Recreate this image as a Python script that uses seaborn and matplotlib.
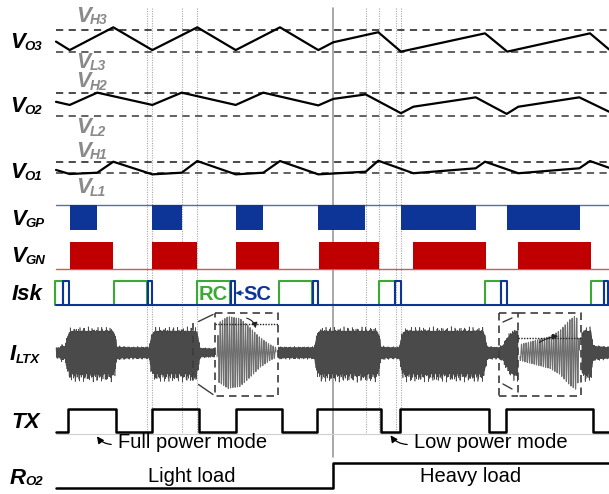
import numpy as np
import matplotlib
matplotlib.use("Agg")
import matplotlib.pyplot as plt
import seaborn as sns

sns.set_theme(style="white")
plt.rcParams["font.family"] = ["Liberation Sans", "DejaVu Sans"]

# ---------------- signal data (time axis in display units) ----------------
T_START, T_END = 56.0, 609.0

# output voltages, as fraction of the hysteresis window (0 = V_L, 1 = V_H)
VO3_T = [56, 69.7, 113.3, 152.3, 197.3, 235.7, 280, 318.3, 333.3, 378.3, 401, 485, 507.3, 590, 609]
VO3_V = [0.48, 0.10, 1.12, 0.10, 1.12, 0.10, 1.12, 0.10, 0.45, 0.90, 0.03, 0.85, 0.03, 0.85, 0.13]

VO2_T = [56, 69.7, 97.3, 152.3, 181.7, 235.7, 263.3, 318.3, 333.3, 365.7, 401, 413.3, 475.7, 506.7, 518.3, 579.3, 609]
VO2_V = [0.62, 0.48, 1.03, 0.48, 1.03, 0.48, 1.03, 0.46, 0.75, 0.95, 0.11, 0.40, 0.82, 0.08, 0.40, 0.82, 0.18]

VO1_T = [56, 69.7, 97.3, 113.3, 152.3, 181.7, 197.3, 235.7, 263.3, 280, 318.3, 365.7, 378.3, 413.3, 475.7, 485, 518.3, 579.3, 590, 609]
VO1_V = [0.25, -0.12, 0.0, 1.0, -0.15, 0.0, 1.06, -0.15, 0.0, 1.06, -0.15, 0.09, 1.09, -0.05, 0.40, 1.0, -0.05, 0.40, 1.06, 0.45]

# gate drive pulses (start, end)
VGP_ON = [(69.7, 97.3), (152.3, 181.7), (235.7, 263.3), (318.3, 365.0), (401.0, 475.7), (506.7, 580.0)]
VGN_ON = [(69.7, 113.3), (152.3, 196.7), (235.7, 279.0), (319.0, 379.3), (412.7, 485.7), (518.3, 591.0)]

# sink current phases
ISK_RC = [(55.0, 63.3), (114.0, 146.7), (196.7, 230.0), (279.3, 312.3), (379.0, 395.0), (485.0, 501.0), (590.7, 604.0)]
ISK_SC = [(63.3, 69.0), (147.7, 151.7), (231.0, 235.0), (313.3, 318.3), (395.0, 400.7), (501.0, 506.7), (604.0, 608.3)]

# transmitter current envelope (half amplitude), NaN where the zoom windows sit
ILTX_T = [56, 60, 62, 65, 67, 69, 72, 113, 115, 117, 130, 149, 151, 153, 156, 196, 198, 200, 214.9,
          215, 278, 278.1, 281, 300, 314, 316, 318, 321, 377, 379, 381, 390, 399, 401, 403, 406, 483,
          485, 487, 495, 499, 503, 507, 512, 518, 518.1, 581.6, 581.7, 584, 591, 593.3, 609]
ILTX_A = [6, 7, 10, 8, 20, 28, 30, 30, 24, 8, 7, 7, 20, 28, 30, 30, 24, 6, 5,
          np.nan, np.nan, 8, 7, 7, 7, 18, 28, 30, 30, 24, 8, 7, 7, 18, 28, 30, 30,
          24, 8, 7, 7, 10, 20, 27, 31, np.nan, np.nan, 26, 30, 30, 9, 7]

# zoomed oscillation: decay at turn-off and build-up at turn-on
ZOOM1_T = [217, 219, 228, 240, 250, 260, 270, 276]
ZOOM1_A = [5, 30, 36, 34, 25, 15, 8, 5]
ZOOM2_T = [520, 535, 550, 560, 570, 576, 578, 579.5]
ZOOM2_A = [8, 12, 16, 22, 33, 37, 30, 5]

# transmitter enable edges (starts low)
TX_EDGES = [68.3, 115.7, 152.3, 199.0, 235.7, 282.3, 316.7, 381.0, 400.0, 489.0, 505.7, 593.3]
# load step
RO2_EDGES = [333.3]

# timing guides
GUIDES_DOTTED = [146.7, 151.7, 181.7, 197.3, 365.7, 379.3, 396.0, 401.0]
GUIDE_SOLID = 332.7

# ---------------- layout ----------------
W, H, DPI = 609, 494, 100
ROWS = {
    "VO3": (52.3, 30.0), "VO2": (115.7, 93.3), "VO1": (172.7, 161.7),
    "VGP": (205.0, 230.0), "VGN": (269.0, 241.7), "ISK": (305.0, 280.7),
    "ILTX": 352.5, "TX": (431.7, 409.3), "RO2": (488.3, 462.7),
}
BLUE, RED, GREEN = "#0d3597", "#c00000", "#3aaa35"
GRAY_TXT = "#8a8a8a"
DASH_C = "#3a3a3a"

fig = plt.figure(figsize=(W / DPI, H / DPI), dpi=DPI)
ax = fig.add_axes([0, 0, 1, 1])
ax.set_xlim(0, W)
ax.set_ylim(H, 0)
ax.axis("off")


def level_to_y(row, v):
    lo, hi = ROWS[row]
    return lo - np.asarray(v, dtype=float) * (lo - hi)


def step_xy(edges, start_high=False):
    xs, lv = [T_START], [1 if start_high else 0]
    cur = lv[0]
    for e in edges:
        xs += [e, e]
        lv += [cur, 1 - cur]
        cur = 1 - cur
    xs.append(T_END)
    lv.append(cur)
    return np.array(xs), np.array(lv)


# timing guides
for gx in GUIDES_DOTTED:
    ax.plot([gx, gx], [8, 434], color="#a8a8a8", lw=0.8, ls=(0, (1, 1.2)), zorder=1)
ax.plot([GUIDE_SOLID] * 2, [8, 457], color="#9a9a9a", lw=1.2, zorder=1)

# output voltage rows with threshold windows
for row, tt, vv in [("VO3", VO3_T, VO3_V), ("VO2", VO2_T, VO2_V), ("VO1", VO1_T, VO1_V)]:
    lo, hi = ROWS[row]
    ax.plot([T_START, T_END], [hi, hi], color=DASH_C, lw=1.3, ls=(0, (4, 3)), zorder=2)
    ax.plot([T_START, T_END], [lo, lo], color="#555555", lw=1.3, ls=(0, (4, 3)), zorder=2)
    sns.lineplot(x=np.array(tt), y=level_to_y(row, vv), ax=ax, color="black", lw=1.6,
                 estimator=None, sort=False, zorder=3)

# gate drive
ax.plot([T_START, T_END], [ROWS["VGP"][0]] * 2, color="#5070b0", lw=1.0, zorder=2)
ax.broken_barh([(a, b - a) for a, b in VGP_ON], (ROWS["VGP"][0], ROWS["VGP"][1] - ROWS["VGP"][0]),
               facecolors=BLUE, edgecolors="none", zorder=3)
ax.plot([T_START, T_END], [ROWS["VGN"][0]] * 2, color="#c06060", lw=1.0, zorder=2)
ax.broken_barh([(a, b - a) for a, b in VGN_ON], (ROWS["VGN"][1], ROWS["VGN"][0] - ROWS["VGN"][1]),
               facecolors=RED, edgecolors="none", zorder=3)

# sink current
base, top = ROWS["ISK"]
for a, b in ISK_RC:
    ax.plot([a, a, b, b], [base, top, top, base], color=GREEN, lw=1.5, zorder=3)
ax.plot([T_START, T_END], [base, base], color=BLUE, lw=1.5, zorder=4)
for a, b in ISK_SC:
    ax.plot([a, a, b, b], [base, top, top, base], color=BLUE, lw=1.5, zorder=4)
ax.text(213.5, 300, "RC", color=GREEN, fontsize=14.5, fontweight="bold", ha="center", va="baseline")
ax.text(257, 300, "SC", color=BLUE, fontsize=14.5, fontweight="bold", ha="center", va="baseline")
ax.annotate("", xy=(232.5, 293), xytext=(246, 293),
            arrowprops=dict(arrowstyle="-|>", color=BLUE, lw=1.0, mutation_scale=7))

# transmitter coil current: solid core plus a fine carrier for the ragged edges
cy = ROWS["ILTX"]
tt = np.arange(T_START, T_END, 0.15)
env = np.interp(tt, ILTX_T, ILTX_A)
ax.fill_between(tt, cy - 0.72 * env, cy + 0.72 * env, color="#3f3f3f", lw=0, zorder=3)
ripple = 0.82 + 0.18 * np.sin(2 * np.pi * tt / 3.3) * np.cos(2 * np.pi * tt / 1.9)
wave = cy + env * ripple * np.sin(2 * np.pi * tt / 0.75)
ax.plot(tt, wave, color="#4a4a4a", lw=0.45, zorder=3)

for zt, za in [(ZOOM1_T, ZOOM1_A), (ZOOM2_T, ZOOM2_A)]:
    t2 = np.arange(zt[0], zt[-1], 0.08)
    e2 = np.interp(t2, zt, za)
    ax.plot(t2, cy + e2 * np.sin(2 * np.pi * t2 / 2.3), color="#6e6e6e", lw=0.8, zorder=3)

dash_kw = dict(color="#3c3c3c", lw=1.2, ls=(0, (4.5, 3)), zorder=5)
# first zoom window
ax.plot([193.3, 193.3], [323, 385], **dash_kw)
ax.plot([215, 278.3, 278.3, 215, 215], [312.5, 312.5, 395.5, 395.5, 312.5], **dash_kw)
ax.plot([198.5, 213], [321.5, 314.5], color="#3c3c3c", lw=1.0, zorder=5)
ax.plot([198.5, 213], [384.5, 394.5], color="#3c3c3c", lw=1.0, zorder=5)
ax.plot([215, 278.3], [324.3, 324.3], color="#222222", lw=1.0, ls=(0, (1, 1)), zorder=5)
ax.annotate("", xy=(256, 331), xytext=(244, 317.5),
            arrowprops=dict(arrowstyle="-|>", color="#222222", lw=0.8, mutation_scale=8,
                            connectionstyle="arc3,rad=-0.4"))
# second zoom window
ax.plot([499.3, 518.3], [312.5, 312.5], **dash_kw)
ax.plot([499.3, 499.3], [312.5, 395.5], **dash_kw)
ax.plot([499.3, 518.3], [395.5, 395.5], **dash_kw)
ax.plot([518.3, 580.7, 580.7, 518.3, 518.3], [312.5, 312.5, 395.5, 395.5, 312.5], **dash_kw)
ax.plot([503, 512], [322, 318], color="#3c3c3c", lw=1.0, zorder=5)
ax.plot([503, 512], [384, 389], color="#3c3c3c", lw=1.0, zorder=5)
ax.plot([518.3, 580.7], [338.3, 338.3], color="#222222", lw=1.0, ls=(0, (1, 1)), zorder=5)
ax.annotate("", xy=(561, 336), xytext=(537, 344),
            arrowprops=dict(arrowstyle="-|>", color="#222222", lw=0.8, mutation_scale=8,
                            connectionstyle="arc3,rad=-0.15"))

# transmitter enable
ax.plot([T_START, T_END], [433.8, 433.8], color="#cfcfcf", lw=0.8, zorder=2)
tx_x, tx_l = step_xy(TX_EDGES)
sns.lineplot(x=tx_x, y=level_to_y("TX", tx_l), ax=ax, color="black", lw=1.8,
             estimator=None, sort=False, zorder=4)
ax.text(193, 448.3, "Full power mode", fontsize=14.5, color="black", ha="center", va="baseline")
ax.annotate("", xy=(95.5, 434), xytext=(114, 444.5),
            arrowprops=dict(arrowstyle="-|>", color="black", lw=0.9, mutation_scale=10,
                            connectionstyle="arc3,rad=-0.3"))
ax.text(491, 448.3, "Low power mode", fontsize=14.5, color="black", ha="center", va="baseline")
ax.annotate("", xy=(389, 433), xytext=(410, 444.5),
            arrowprops=dict(arrowstyle="-|>", color="black", lw=0.9, mutation_scale=10,
                            connectionstyle="arc3,rad=-0.3"))

# load resistance
ro_x, ro_l = step_xy(RO2_EDGES)
sns.lineplot(x=ro_x, y=level_to_y("RO2", ro_l), ax=ax, color="black", lw=1.8,
             estimator=None, sort=False, zorder=4)
ax.text(191.5, 481.7, "Light load", fontsize=14.5, color="black", ha="center", va="baseline")
ax.text(471, 481.7, "Heavy load", fontsize=14.5, color="black", ha="center", va="baseline")

# row labels with subscripts
renderer = fig.canvas.get_renderer()
inv = ax.transData.inverted()


def label(x, y, main, sub, color="black", size=16, subsize=9.5, back=1.0, drop=2.0):
    t = ax.text(x, y, main, fontsize=size, fontweight="bold", fontstyle="italic",
                color=color, va="baseline", ha="left")
    if sub:
        bb = t.get_window_extent(renderer)
        x1 = inv.transform((bb.x1, bb.y0))[0]
        ax.text(x1 - back, y + drop, sub, fontsize=subsize, fontweight="bold",
                fontstyle="italic", color=color, va="baseline", ha="left")


label(10, 48.3, "V", "O3")
label(10, 112.3, "V", "O2")
label(10, 178.0, "V", "O1")
label(11.5, 225.0, "V", "GP")
label(11.5, 261.7, "V", "GN")
label(12, 300.0, "Isk", "")
label(10, 360.0, "I", "LTX", back=0.0, drop=3.0)
label(11.5, 428.0, "TX", "")
label(10, 484.0, "R", "O2", back=0.5, drop=1.0)

label(76, 22.0, "V", "H3", color=GRAY_TXT, size=16, subsize=10, drop=2)
label(76, 68.5, "V", "L3", color=GRAY_TXT, size=15.5, subsize=10, drop=1.5)
label(76, 87.0, "V", "H2", color=GRAY_TXT, size=15.5, subsize=10, drop=2.5)
label(76, 133.3, "V", "L2", color=GRAY_TXT, size=16, subsize=10, drop=3)
label(76, 156.7, "V", "H1", color=GRAY_TXT, size=16, subsize=10, drop=2)
label(76, 193.3, "V", "L1", color=GRAY_TXT, size=16, subsize=10, drop=3)

fig.savefig("out.png", dpi=DPI)
